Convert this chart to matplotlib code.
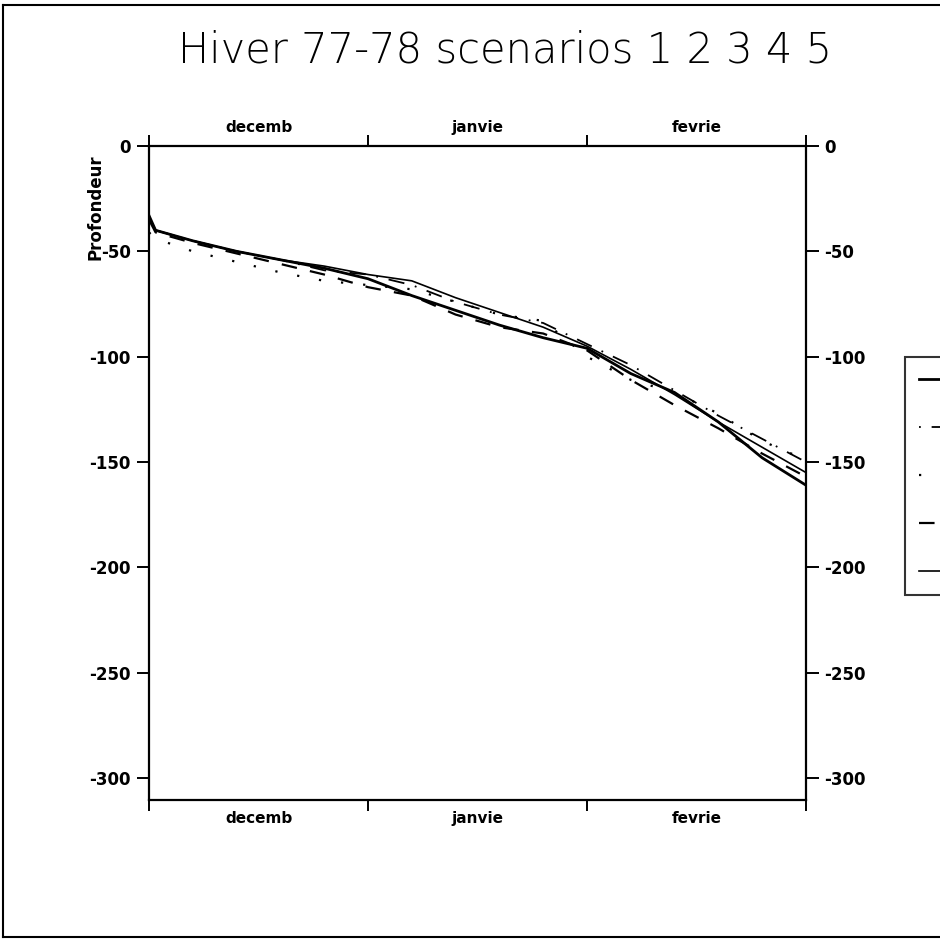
import matplotlib
matplotlib.use("Agg")
import matplotlib.pyplot as plt
from matplotlib.lines import Line2D

# ---- data (x in months from 1 Dec; depth values) ----
months = ["decemb", "janvie", "fevrie"]
month_edges = [0, 1, 2, 3]
month_centers = [0.5, 1.5, 2.5]
x = [0, 0.03, 0.2, 0.4, 0.6, 0.8, 1.0, 1.2, 1.4, 1.6, 1.8, 2.0, 2.2, 2.4, 2.6, 2.8, 3.0]
s1 = [-33, -40, -45, -50, -54, -58, -63, -71, -78, -85, -91, -96, -108, -117, -131, -148, -161]
s2 = [-35, -40, -45, -50, -54, -59, -61, -66, -74, -80, -84, -94, -104, -116, -128, -139, -150]
s3 = [-41, -44, -50, -55, -60, -64, -66, -68, -74, -80, -83, -100, -111, -117, -127, -140, -149]
s4 = [-35, -41, -46, -51, -56, -61, -67, -71, -80, -86, -89, -97, -111, -123, -134, -146, -157]
s5 = [-34, -40, -45, -50, -54, -57, -61, -64, -72, -79, -86, -95, -106, -118, -131, -143, -155]
labels = ["1", "2", "3", "4", "5"]
yticks = [0, -50, -100, -150, -200, -250, -300]

fig = plt.figure(figsize=(9.4, 9.4), dpi=100)
ax = fig.add_axes([149/940, 1-800/940, 657/940, 654/940])

styles = [
    dict(color="black", lw=2.0, ls="-"),
    dict(color="black", lw=1.3, ls=(0, (1, 6, 9, 6))),
    dict(color="black", lw=1.6, ls=(0, (1, 9))),
    dict(color="black", lw=1.6, ls=(0, (7, 6))),
    dict(color="black", lw=1.2, ls="-"),
]
handles = []
for s, st, lab in zip([s1, s2, s3, s4, s5], styles, labels):
    h, = ax.plot(x, s, label=lab, **st)
    handles.append(h)

ax.set_xlim(0, 3)
ax.set_ylim(-310.4, 0)
for sp in ax.spines.values():
    sp.set_linewidth(1.6)

ax.set_xticks(month_edges)
ax.set_xticks(month_centers, minor=True)
ax.set_xticklabels([])
ax.set_xticklabels(months, minor=True)
ax.tick_params(axis="x", which="major", direction="out", length=8, width=1.4,
               top=True, bottom=True)
ax.tick_params(axis="x", which="minor", length=0, top=True, bottom=True,
               labeltop=True, labelbottom=True, pad=8, labelsize=11)
for t in ax.get_xticklabels(minor=True):
    t.set_fontweight("bold")

ax.set_yticks(yticks)
ax.set_yticklabels([str(v) for v in yticks])
ax.tick_params(axis="y", direction="out", length=9, width=1.4, left=True, right=True,
               labelleft=True, labelright=True, labelsize=12, pad=4)
for t in ax.get_yticklabels():
    t.set_fontweight("bold")

fig.text(505/940, 1-50/940, "Hiver 77-78 scenarios 1 2 3 4 5", ha="center", va="center",
         fontsize=30, fontweight="light", family=["DejaVu Sans"])
fig.text(96/940, 1-207/940, "Profondeur", rotation=90, ha="center", va="center",
         fontsize=12, fontweight="bold")

# outer frame
for xs, ys in [([3/940, 3/940], [3/940, 1-5/940]),
               ([3/940, 1.0], [1-5/940, 1-5/940]),
               ([3/940, 1.0], [3/940, 3/940])]:
    fig.add_artist(Line2D(xs, ys, color="black", lw=1.5, transform=fig.transFigure))

# legend: only the line samples are visible in the reference (labels cropped away)
leg = fig.legend(handles=handles, labels=[""] * len(labels), loc="upper left",
                 bbox_to_anchor=(905/940, 1-357/940), frameon=True, fancybox=False,
                 edgecolor="black", fontsize=12, labelspacing=1.8, borderpad=0.85,
                 handlelength=5, handletextpad=0.8, borderaxespad=0)
leg.get_frame().set_linewidth(1.5)

fig.savefig("out.png", dpi=100)
